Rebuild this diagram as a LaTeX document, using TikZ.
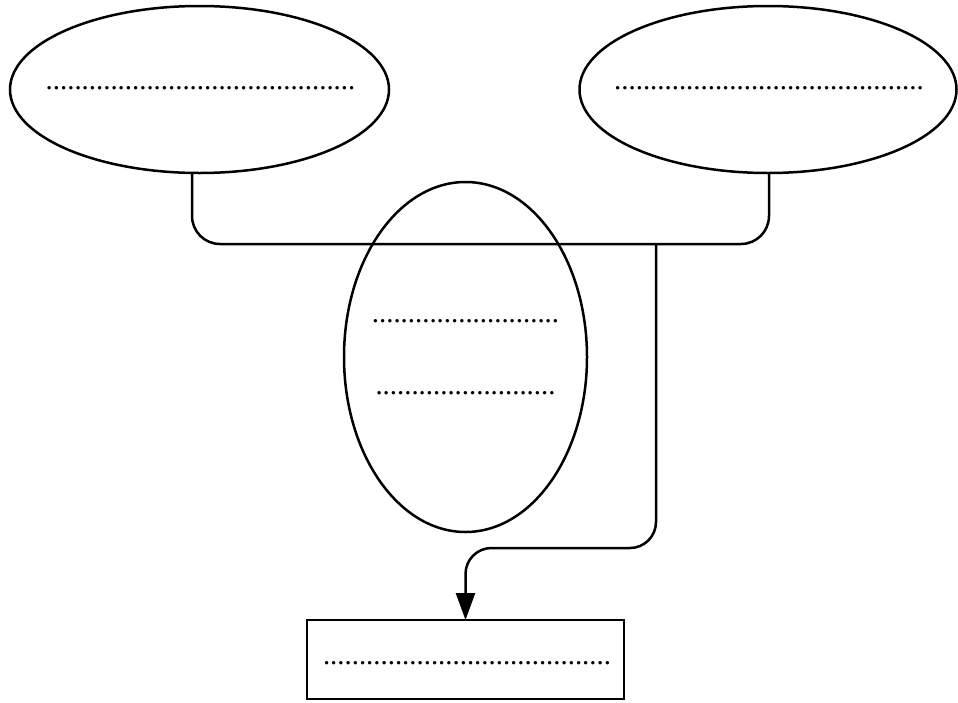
\documentclass[tikz,border=0pt]{standalone}
\usepackage{fontspec}
\setmainfont{Liberation Serif}
\usetikzlibrary{shapes.geometric,arrows.meta}
\tikzset{
  shapeline/.style={draw=black, line width=2.5pt, inner sep=0pt, outer sep=0pt},
  oval/.style={shapeline, ellipse},
  box/.style={shapeline, rectangle},
  dots/.style={font=\fontsize{28.8}{32}\selectfont, inner sep=0pt, anchor=base},
  conn/.style={draw=black, line width=2.5pt},
}
\begin{document}
\begin{tikzpicture}[x=1pt,y=-1pt]
\useasboundingbox (0,0) rectangle (958,702);
% shapes
\node[oval, minimum width=379pt, minimum height=167pt] (L) at (199.5,89.5) {};
\node[oval, minimum width=377pt, minimum height=167pt] (R) at (768,89.5) {};
\node[oval, minimum width=243pt, minimum height=350pt] (M) at (465.5,357) {};
\node[box, minimum width=317pt, minimum height=79pt] (B) at (465.5,659.5) {};
% texts
\node[dots] (Lt) at (200.5,89) {...........................................};
\node[dots] (Rt) at (769,89) {...........................................};
\node[dots] (M1) at (465.5,322) {..........................};
\node[dots] (M2) at (465.5,394) {.........................};
\node[dots] (Bt) at (467,664) {........................................};
% connectors
\coordinate (lj) at (192,172);
\coordinate (rj) at (769,172);
\coordinate (br) at (656,244);
\draw[conn, rounded corners=28pt] (lj) |- (br) -| (rj);
\draw[conn, rounded corners=26pt, -{Triangle[length=27pt,width=19pt]}]
  (br) |- (B.north |- 0,548) -- (B.north);
\end{tikzpicture}
\end{document}
